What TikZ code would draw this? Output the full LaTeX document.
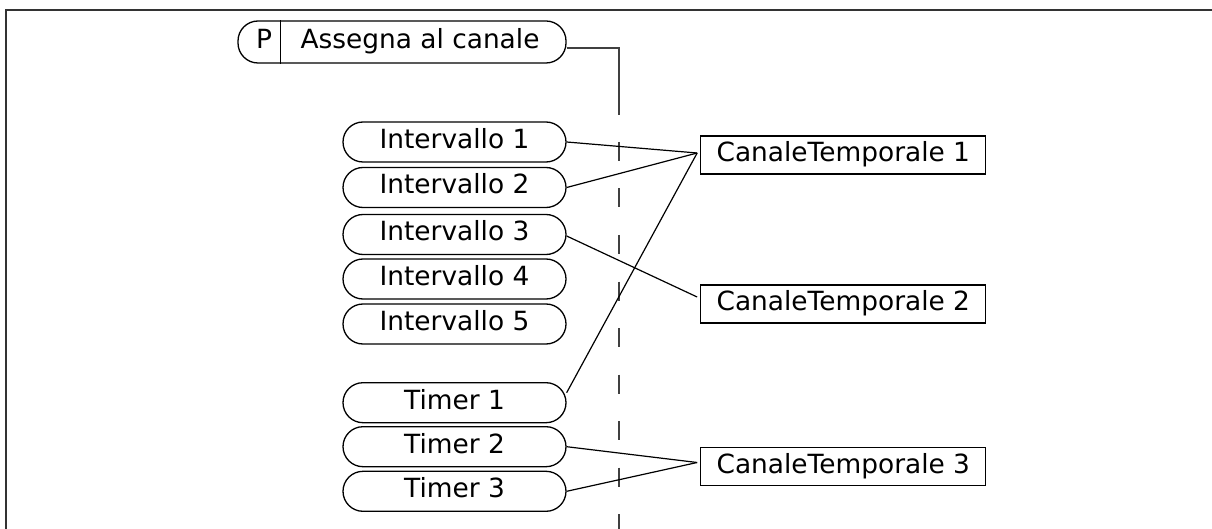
\documentclass[tikz,border=0pt]{standalone}
\usepackage{fontspec}
\setmainfont{DejaVu Sans}
\begin{document}
\begin{tikzpicture}[x=1pt,y=-1pt,
  every node/.style={font=\fontsize{26.4}{30}\selectfont},
  frameline/.style={draw=black!80, line width=2pt},
  pill/.style={draw, line width=1.3pt, rounded corners=20pt, minimum width=223pt,
    minimum height=40pt, inner sep=0pt, text height=19pt, text depth=6pt},
  chanbox/.style={draw, line width=1.3pt, minimum width=285pt, minimum height=38pt,
    inner sep=0pt, text height=19pt, text depth=6pt},
  plain/.style={inner sep=0pt, text height=19pt, text depth=6pt},
  conn/.style={draw, line width=1.2pt},
  guide/.style={draw=black!75, line width=1.8pt},
  guidedash/.style={draw=black!75, line width=1.8pt, dash pattern=on 19pt off 27.5pt}]
\useasboundingbox (0,0) rectangle (1212,529);
% frame
\draw[frameline] (6,529) -- (6,10) -- (1212,10);
% parameter pill
\node[pill, minimum width=328pt, minimum height=42pt] (p) at (402,42) {};
\node[plain] (pl) at (264,42) {P};
\node[plain] (pt) at (420,42) {Assegna al canale};
\draw[line width=1.3pt] ([xshift=43pt]p.north west) -- ([xshift=43pt]p.south west);
% guide line
\coordinate (gbend) at (619,115);
\coordinate (gtop) at (619,142);
\coordinate (gbot) at (619,529);
\draw[guide] ([yshift=-6pt]p.east) -| (gbend);
\draw[guidedash] (gtop) -- (gbot);
% inputs
\node[pill] (i1) at (454.5,142) {Intervallo 1};
\node[pill] (i2) at (454.5,187.5) {Intervallo 2};
\node[pill] (i3) at (454.5,234.5) {Intervallo 3};
\node[pill] (i4) at (454.5,279) {Intervallo 4};
\node[pill] (i5) at (454.5,324) {Intervallo 5};
\node[pill] (t1) at (454.5,402.7) {Timer 1};
\node[pill] (t2) at (454.5,446.7) {Timer 2};
\node[pill] (t3) at (454.5,491.3) {Timer 3};
% channels
\node[chanbox] (c1) at (843.3,155) {CanaleTemporale 1};
\node[chanbox] (c2) at (843.3,304) {CanaleTemporale 2};
\node[chanbox] (c3) at (843.3,466.5) {CanaleTemporale 3};
\coordinate (j1) at ([xshift=-3pt,yshift=2pt]c1.west);
\coordinate (j2) at ([xshift=-3pt,yshift=7pt]c2.west);
\coordinate (j3) at ([xshift=-3pt,yshift=4pt]c3.west);
% connectors
\draw[conn] (i1.east) -- (j1);
\draw[conn] (i2.east) -- (j1);
\draw[conn] ([yshift=10pt]t1.east) -- (j1);
\draw[conn] ([yshift=-1.5pt]i3.east) -- (j2);
\draw[conn] (t2.east) -- (j3);
\draw[conn] (t3.east) -- (j3);
\end{tikzpicture}
\end{document}
